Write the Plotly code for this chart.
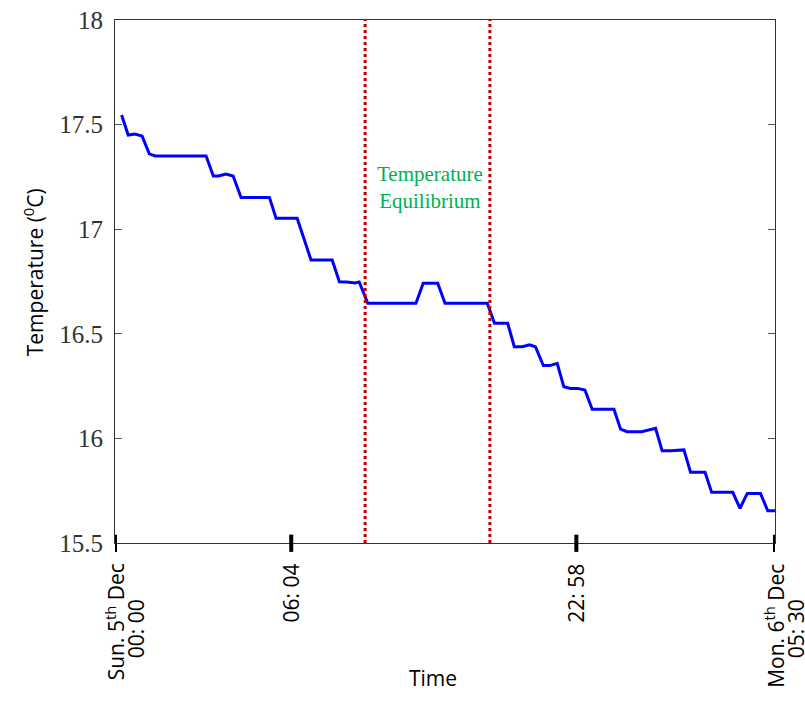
import plotly.graph_objects as go

# Sample position along the time axis (0 = Sun 5th Dec 00:00, 100 = Mon 6th Dec 05:30)
sample_pos = [1.0, 2.0, 3.0, 4.1, 5.2, 6.1, 13.8, 14.9, 15.7, 16.8, 17.9, 19.1, 23.4, 24.4,
              27.6, 29.7, 32.9, 34.0, 35.1, 36.4, 37.0, 38.3, 45.6, 46.7, 48.9, 50.0, 56.4,
              57.5, 59.5, 60.5, 61.7, 62.8, 63.7, 64.9, 65.9, 67.0, 68.0, 69.0, 70.1, 71.2,
              72.3, 75.6, 76.6, 77.6, 79.8, 81.9, 82.9, 84.2, 86.2, 87.2, 89.4, 90.4, 93.6,
              94.7, 95.8, 97.8, 98.9, 100.0]
temperature = [17.546, 17.45, 17.455, 17.445, 17.36, 17.35, 17.35, 17.254, 17.254, 17.264,
               17.254, 17.152, 17.152, 17.052, 17.052, 16.853, 16.853, 16.749, 16.748, 16.743,
               16.748, 16.646, 16.646, 16.742, 16.742, 16.646, 16.646, 16.55, 16.55, 16.438,
               16.438, 16.447, 16.438, 16.348, 16.348, 16.359, 16.247, 16.239, 16.239, 16.231,
               16.139, 16.139, 16.044, 16.032, 16.032, 16.048, 15.941, 15.941, 15.945, 15.838,
               15.838, 15.742, 15.742, 15.666, 15.737, 15.737, 15.654, 15.654]

tick_vals = [0, 26.7, 69.9, 100]
tick_line1 = ["Sun. 5<sup>th</sup> Dec", "06: 04", "22: 58", "Mon. 6<sup>th</sup> Dec"]
tick_line2 = ["00: 00", "", "", "05: 30"]

equilibrium_bounds = [37.9, 56.8]
equilibrium_label = "Temperature<br>Equilibrium"
equilibrium_label_pos = (47.8, 17.2)

y_ticks = [15.5, 16, 16.5, 17, 17.5, 18]
y_ticktext = ["15.5", "16", "16.5", "17", "17.5", "18"]

SANS = "'Open Sans', Lato, sans-serif"
SERIF = "'Liberation Serif', 'DejaVu Serif', serif"

fig = go.Figure()
fig.add_trace(go.Scatter(x=sample_pos, y=temperature, mode="lines",
                         line=dict(color="#0000ff", width=3), showlegend=False))

shapes = []
for xb in equilibrium_bounds:
    shapes.append(dict(type="line", xref="x", yref="paper", x0=xb, x1=xb, y0=0, y1=1,
                       line=dict(color="#c00000", width=3, dash="dot")))
for tv in tick_vals:
    shapes.append(dict(type="line", xref="x", yref="paper", x0=tv, x1=tv, y0=-0.017, y1=0.016,
                       line=dict(color="black", width=4)))

annotations = [dict(x=equilibrium_label_pos[0], y=equilibrium_label_pos[1], xref="x", yref="y",
                    text=equilibrium_label, showarrow=False,
                    font=dict(family=SERIF, size=21, color="#00b050"), align="center")]
for tv, l1, l2 in zip(tick_vals, tick_line1, tick_line2):
    annotations.append(dict(x=tv, y=-0.036, xref="x", yref="paper", text=l1, showarrow=False,
                            textangle=-90, xanchor="center", yanchor="top",
                            font=dict(family=SANS, size=21, color="black")))
    if l2:
        annotations.append(dict(x=tv, y=-0.036, xref="x", yref="paper", text=l2, showarrow=False,
                                textangle=-90, xanchor="center", yanchor="top", xshift=21, yshift=-36,
                                font=dict(family=SANS, size=21, color="black")))
annotations.append(dict(x=0.482, y=-0.258, xref="paper", yref="paper", text="Time", showarrow=False,
                        xanchor="center", yanchor="middle", font=dict(family=SANS, size=21, color="black")))
annotations.append(dict(x=-0.124, y=0.518, xref="paper", yref="paper", text="Temperature (<sup>0</sup>C)",
                        showarrow=False, textangle=-90, xanchor="center", yanchor="middle",
                        font=dict(family=SANS, size=21, color="black")))

fig.update_layout(
    width=805, height=704,
    margin=dict(l=115, r=30, t=20, b=161),
    plot_bgcolor="white", paper_bgcolor="white",
    shapes=shapes, annotations=annotations,
    xaxis=dict(range=[0, 100], showgrid=False, zeroline=False, showticklabels=False, ticks="",
               showline=True, linecolor="#333", linewidth=1.2, mirror=True, automargin=False),
    yaxis=dict(range=[15.5, 18], tickvals=y_ticks, ticktext=y_ticktext, showgrid=False, zeroline=False,
               ticks="inside", ticklen=7, tickcolor="#555", tickwidth=1, ticklabelstandoff=6,
               showline=True, linecolor="#333", linewidth=1.2, mirror="ticks", automargin=False,
               tickfont=dict(family=SERIF, size=25, color="#333")),
)

fig.write_html("out.html")
